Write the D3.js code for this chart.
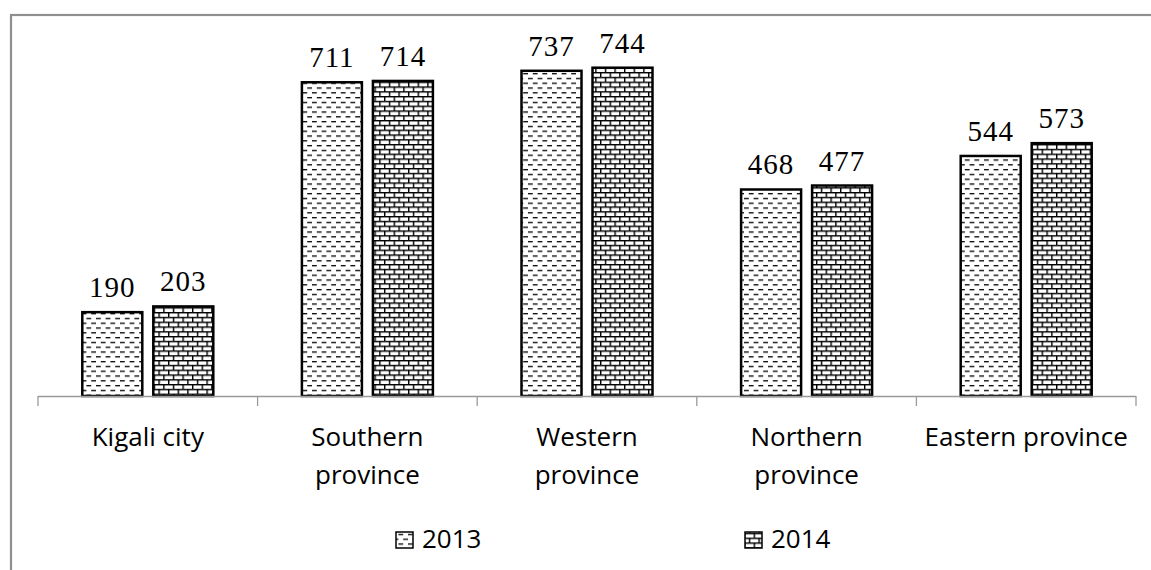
<!DOCTYPE html>
<html><head><meta charset="utf-8">
<script src="https://cdn.jsdelivr.net/npm/d3@7"></script>
<style>body{margin:0;background:#fff}svg{display:block}</style>
</head><body>
<svg id="c" width="1151" height="570"></svg>
<script>
const categories = [["Kigali city"], ["Southern", "province"], ["Western", "province"], ["Northern", "province"], ["Eastern province"]];
const seriesNames = ["2013", "2014"];
const values2013 = [190, 711, 737, 468, 544];
const values2014 = [203, 714, 744, 477, 573];
const seriesValues = [values2013, values2014];

const svg = d3.select("#c");
const defs = svg.append("defs");
// dashed horizontal pattern
const p1 = defs.append("pattern").attr("id","pDash").attr("patternUnits","userSpaceOnUse")
  .attr("width",9.6).attr("height",9.6);
p1.append("rect").attr("width",9.6).attr("height",9.6).attr("fill","#fff");
p1.append("rect").attr("x",0).attr("y",1).attr("width",4.8).attr("height",1.3).attr("fill","#000");
p1.append("rect").attr("x",4.8).attr("y",5.8).attr("width",4.8).attr("height",1.3).attr("fill","#000");
// brick pattern
const p2 = defs.append("pattern").attr("id","pBrick").attr("patternUnits","userSpaceOnUse")
  .attr("width",9.6).attr("height",9.6);
p2.append("rect").attr("width",9.6).attr("height",9.6).attr("fill","#fff");
p2.append("rect").attr("x",0).attr("y",0).attr("width",9.6).attr("height",1.4).attr("fill","#000");
p2.append("rect").attr("x",0).attr("y",4.8).attr("width",9.6).attr("height",1.4).attr("fill","#000");
p2.append("rect").attr("x",0).attr("y",0).attr("width",1.4).attr("height",4.8).attr("fill","#000");
p2.append("rect").attr("x",4.8).attr("y",4.8).attr("width",1.4).attr("height",4.8).attr("fill","#000");
const fills = ["url(#pDash)", "url(#pBrick)"];

// frame
svg.append("rect").attr("x",11).attr("y",15).attr("width",1300).attr("height",700)
  .attr("fill","none").attr("stroke","#8f8f8f").attr("stroke-width",2.2);

const x0 = d3.scaleBand().domain(d3.range(categories.length)).range([38,1136]).padding(0);
const groupW = 131;
const x1 = d3.scaleBand().domain(seriesNames)
  .range([x0.bandwidth()/2 - groupW/2, x0.bandwidth()/2 + groupW/2]).paddingInner(11/71);
const y = d3.scaleLinear().domain([0,800]).range([396, 43]);

// bars
seriesNames.forEach((s, si) => {
  const g = svg.append("g");
  g.selectAll("rect").data(seriesValues[si]).join("rect")
    .attr("x",(d,i)=>x0(i)+x1(s))
    .attr("y",d=>y(d))
    .attr("width",x1.bandwidth())
    .attr("height",d=>y(0)-y(d))
    .attr("fill",fills[si]).attr("stroke","#000").attr("stroke-width",2.5);
  g.selectAll("text").data(seriesValues[si]).join("text")
    .attr("x",(d,i)=>x0(i)+x1(s)+x1.bandwidth()/2)
    .attr("y",d=>y(d)-15)
    .attr("text-anchor","middle")
    .attr("font-family","'Liberation Serif', serif").attr("font-size",29)
    .attr("letter-spacing",1).attr("fill","#000")
    .text(d=>d);
});

// axis
const axisG = svg.append("g");
axisG.append("line").attr("x1",38).attr("x2",1136).attr("y1",396.5).attr("y2",396.5)
  .attr("stroke","#9a9a9a").attr("stroke-width",1.3);
const tickXs = d3.range(categories.length + 1).map(i => i < categories.length ? x0(i) : x0(i-1)+x0.bandwidth());
axisG.selectAll("line.t").data(tickXs).join("line").attr("class","t")
  .attr("x1",d=>d).attr("x2",d=>d).attr("y1",396).attr("y2",406)
  .attr("stroke","#9a9a9a").attr("stroke-width",1.3);

// category labels
categories.forEach((lines, i) => {
  const t = svg.append("text").attr("text-anchor","middle")
    .attr("font-family","'Open Sans', sans-serif").attr("font-size",26).attr("fill","#000");
  lines.forEach((ln, k) => {
    t.append("tspan").attr("x", x0(i)+x0.bandwidth()/2).attr("y", 446 + k*38).text(ln);
  });
});

// legend
const legendX = [396, 745];
seriesNames.forEach((s, si) => {
  svg.append("rect").attr("x",legendX[si]).attr("y",532).attr("width",17).attr("height",16)
    .attr("fill",fills[si]).attr("stroke","#000").attr("stroke-width",1.5);
  svg.append("text").attr("x",legendX[si]+26).attr("y",548)
    .attr("font-family","'Open Sans', sans-serif").attr("font-size",26).attr("fill","#000").text(s);
});
</script>
</body></html>
